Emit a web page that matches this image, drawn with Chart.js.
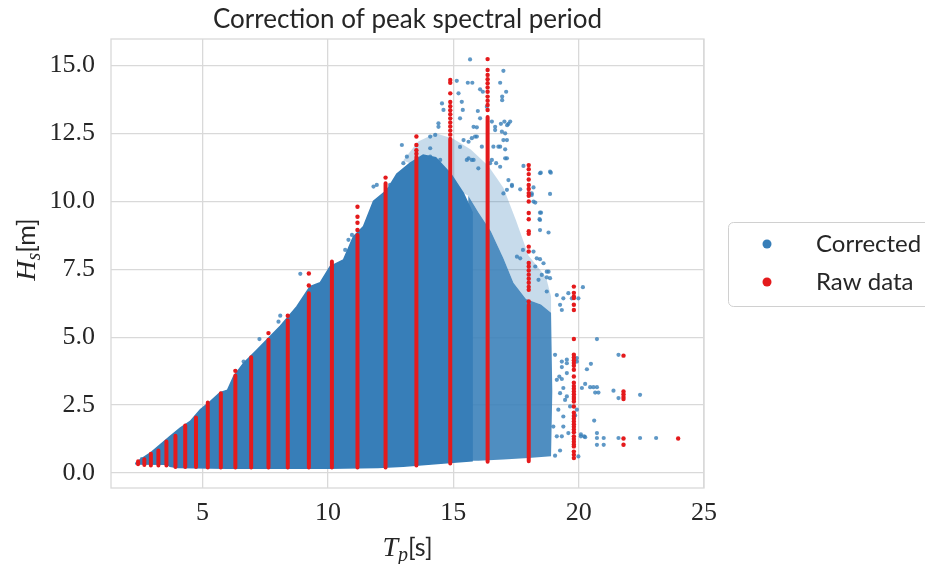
<!DOCTYPE html>
<html>
<head>
<meta charset="utf-8">
<title>Correction of peak spectral period</title>
<script src="https://cdn.jsdelivr.net/npm/chart.js@4.4.1/dist/chart.umd.min.js"></script>
<style>
  html, body { margin: 0; padding: 0; background: #fff; }
  #wrap { width: 925px; height: 564px; }
</style>
</head>
<body>
<div id="wrap"><canvas id="chart" width="925" height="564"></canvas></div>
<script>
// ---- data ----
const xTicks = [5, 10, 15, 20, 25];
const yTicks = [0, 2.5, 5, 7.5, 10, 12.5, 15];

// raw Tp bins and the solid Hs extent of each raw column (null = only loose dots)
const rawTp   = [2.43, 2.68, 2.94, 3.24, 3.56, 3.92, 4.31, 4.74, 5.21, 5.73, 6.31, 6.94, 7.63,
                 8.40, 9.24, 10.16, 11.18, 12.30, 13.53, 14.88, 16.37, 18.01, 19.81, 21.79, 23.97];
const rawLow  = [0.32, 0.30, 0.28, 0.28, 0.28, 0.22, 0.22, 0.22, 0.20, 0.20, 0.20, 0.20, 0.20,
                 0.20, 0.20, 0.20, 0.20, 0.20, 0.28, 0.35, 0.42, 0.43, null, null, null];
const rawHigh = [0.43, 0.51, 0.71, 0.83, 1.16, 1.37, 1.75, 2.04, 2.60, 2.94, 3.59, 4.26, 4.90,
                 5.61, 6.62, 7.78, 8.76, 10.66, 11.64, 12.30, 13.10, 6.19, null, null, null];

// loose raw points above / apart from the solid columns [Tp, Hs]
const rawDots = [
  [6.31, 3.76], [7.63, 5.15], [8.40, 5.79], [9.24, 6.90], [9.24, 7.34],
  [11.18, 8.94], [11.18, 9.21], [11.18, 9.43], [11.18, 9.80], [12.30, 10.87],
  [13.53, 11.75], [13.53, 11.88], [13.53, 12.07], [13.53, 12.38],
  [14.88, 12.45], [14.88, 12.60], [14.88, 12.75], [14.88, 12.90], [14.88, 13.05], [14.88, 13.20],
  [14.88, 13.35], [14.88, 13.50], [14.88, 13.65], [14.88, 13.97], [14.88, 14.36], [14.88, 14.46],
  [16.37, 13.36], [16.37, 13.54], [16.37, 13.70], [16.37, 13.85], [16.37, 14.03], [16.37, 14.19],
  [16.37, 14.34], [16.37, 14.49], [16.37, 14.65], [16.37, 14.83], [16.37, 15.23],
  [18.01, 6.31], [18.01, 6.74], [18.01, 6.85], [18.01, 7.00], [18.01, 7.15], [18.01, 7.30],
  [18.01, 7.45], [18.01, 7.60], [18.01, 7.73], [18.01, 8.15], [18.01, 8.33], [18.01, 8.80],
  [18.01, 8.90], [18.01, 9.34], [18.01, 9.57], [18.01, 9.99], [18.01, 10.20], [18.01, 10.30],
  [18.01, 10.45], [18.01, 10.60], [18.01, 10.80], [18.01, 11.00], [18.01, 11.18], [18.01, 11.33],
  [19.81, 6.86], [19.81, 6.63], [19.81, 6.50], [19.81, 6.44], [19.81, 6.19], [19.81, 6.00],
  [19.81, 4.93], [19.81, 4.35], [19.81, 4.25], [19.81, 4.15], [19.81, 4.05], [19.81, 3.95],
  [19.81, 3.80], [19.81, 3.55], [19.81, 3.32], [19.81, 3.20], [19.81, 3.10], [19.81, 3.00],
  [19.81, 2.90], [19.81, 2.80], [19.81, 2.72], [19.81, 2.63], [19.81, 2.45], [19.81, 2.22],
  [19.81, 2.10], [19.81, 2.00], [19.81, 1.90], [19.81, 1.80], [19.81, 1.70], [19.81, 1.60],
  [19.81, 1.50], [19.81, 1.35], [19.81, 1.25], [19.81, 1.15], [19.81, 1.05], [19.81, 0.98],
  [19.81, 0.79], [19.81, 0.67], [19.81, 0.55],
  [21.79, 4.32], [21.79, 3.00], [21.79, 2.90], [21.79, 2.80], [21.79, 2.72], [21.79, 1.27],
  [21.79, 1.04], [23.97, 1.27]
];

// outline of the solid corrected cloud [Tp, Hs]
const coreEnvelope = [
  [2.32, 0.35], [2.52, 0.49], [2.91, 0.73], [3.31, 1.04], [3.71, 1.35], [4.11, 1.65],
  [4.51, 1.90], [4.91, 2.33], [5.31, 2.63], [5.70, 2.96], [6.00, 3.05], [6.24, 3.55],
  [6.64, 4.04], [7.17, 4.53], [7.57, 4.90], [8.10, 5.40], [8.76, 6.12], [9.29, 6.86],
  [9.69, 7.00], [10.09, 7.60], [10.62, 7.84], [11.02, 8.70], [11.42, 9.07], [11.82, 10.00],
  [12.35, 10.40], [12.75, 11.00], [13.28, 11.40], [13.80, 11.70], [14.30, 11.60], [14.90, 11.00],
  [15.40, 10.30], [15.75, 9.60], [15.75, 0.45], [15.00, 0.40], [14.00, 0.32], [13.00, 0.25],
  [12.00, 0.20], [10.00, 0.18], [8.00, 0.18], [6.00, 0.18], [4.00, 0.20], [3.70, 0.25],
  [3.60, 0.32], [2.32, 0.33]
];

// speckled part of the cloud at long periods
const spreadEnvelope = [
  [15.60, 10.20], [16.00, 9.60], [16.50, 8.90], [17.00, 7.90], [17.40, 7.00], [17.90, 6.40],
  [18.50, 6.20], [18.90, 5.90], [18.95, 3.00], [18.90, 0.62], [18.00, 0.55], [17.00, 0.50],
  [16.00, 0.45], [15.60, 0.45]
];

// thin halo above the dense cloud
const haloEnvelope = [
  [13.00, 11.50], [13.60, 12.20], [14.30, 12.50], [15.00, 12.30], [15.70, 11.90], [16.40, 11.30],
  [17.00, 10.50], [17.50, 9.30], [18.00, 8.00], [18.70, 7.20], [18.90, 6.50], [18.90, 5.90],
  [18.50, 6.20], [17.90, 6.40], [17.40, 7.00], [17.00, 7.90], [16.50, 8.90], [16.00, 9.60],
  [15.60, 10.20], [15.40, 10.30], [14.90, 11.00], [14.30, 11.60], [13.80, 11.70], [13.28, 11.40]
];

// scattered corrected points outside the dense cloud [Tp, Hs]
const correctedPts = [
  [2.58, 0.51], [6.64, 4.10], [7.27, 4.93], [8.10, 5.79], [8.03, 5.57], [8.90, 7.33],
  [10.42, 7.66], [10.56, 7.72], [10.69, 8.21], [10.82, 8.58], [10.96, 8.76], [11.82, 10.54],
  [11.95, 10.60], [12.35, 10.42], [12.48, 10.60], [13.01, 11.40], [13.15, 11.64], [14.08, 11.64],
  [14.48, 11.52],
  [15.67, 15.22], [15.14, 14.43], [15.58, 14.36], [15.76, 14.36], [17.00, 14.80], [16.87, 14.36],
  [17.11, 14.03], [16.95, 13.85], [16.95, 13.72], [16.07, 14.12], [16.18, 14.03], [15.21, 13.97],
  [14.55, 13.60], [15.34, 13.66], [15.38, 13.36], [14.61, 13.36], [15.98, 13.32], [16.34, 13.48],
  [17.04, 12.93], [17.27, 12.93], [17.15, 12.80], [16.67, 12.74], [16.67, 12.62], [14.41, 12.87],
  [14.41, 12.74], [14.08, 12.38], [14.28, 12.44], [15.81, 12.74], [15.87, 12.38], [15.94, 12.38],
  [15.61, 12.19], [15.27, 12.00], [17.00, 12.25], [17.14, 12.25], [16.87, 12.01], [12.95, 12.07],
  [14.08, 11.95], [17.07, 11.58], [16.54, 11.52], [16.47, 11.40], [15.61, 11.58], [15.81, 11.52],
  [17.80, 11.30], [18.46, 11.03], [18.86, 11.09], [18.86, 10.27], [18.46, 9.58], [17.34, 10.56],
  [17.00, 10.29], [18.13, 10.29], [17.67, 10.44], [18.20, 9.99], [18.46, 9.31],
  [15.27, 13.05], [16.07, 13.05], [16.54, 12.93], [16.90, 12.85], [17.20, 12.85], [15.94, 12.72],
  [16.94, 12.56], [17.07, 12.50], [15.41, 12.25], [15.74, 12.32], [16.60, 12.01], [16.80, 12.01],
  [17.07, 11.91], [16.14, 12.01], [17.14, 11.58], [15.54, 11.52], [15.74, 11.52], [16.71, 11.40],
  [16.87, 11.27], [16.00, 11.21], [18.49, 11.05], [18.89, 11.05], [18.20, 10.51], [17.20, 10.78],
  [17.34, 10.60], [17.14, 10.42], [18.46, 8.94], [18.80, 8.85], [18.27, 9.95], [17.54, 7.96],
  [17.67, 7.90], [17.78, 8.21], [18.33, 7.90], [18.46, 7.87], [18.73, 7.41], [18.86, 7.17],
  [19.13, 6.55], [19.39, 6.43],
  [18.13, 10.23], [18.50, 9.58], [18.44, 9.34], [18.20, 8.15], [18.27, 7.60], [18.60, 7.72],
  [18.80, 7.41], [18.73, 7.20], [18.53, 7.29], [18.40, 7.11], [18.73, 6.68], [19.26, 6.19],
  [19.33, 6.00], [19.59, 6.62], [19.73, 6.43], [19.99, 6.43], [20.17, 6.84], [20.73, 4.93],
  [19.06, 4.35], [19.33, 4.10], [19.53, 4.04], [19.93, 4.23], [19.93, 4.10], [19.33, 3.46],
  [19.53, 3.68], [20.33, 3.82], [20.49, 4.02], [19.39, 3.13], [19.26, 2.94], [19.53, 2.82],
  [19.46, 2.69], [20.13, 3.13], [20.26, 3.28], [20.46, 3.16], [20.59, 3.16], [20.73, 3.16],
  [20.66, 2.96], [20.79, 2.96], [21.39, 3.03], [21.59, 2.76], [22.45, 2.88], [21.59, 4.35],
  [20.62, 1.93], [19.39, 1.71], [18.99, 1.71], [19.13, 1.35], [19.33, 1.35], [20.09, 1.35],
  [20.26, 1.32], [20.73, 1.47], [20.73, 1.29], [20.73, 1.04], [21.00, 1.29], [21.00, 1.04],
  [21.59, 1.29], [22.45, 1.29], [23.09, 1.29], [19.26, 0.83], [19.06, 0.64], [19.99, 0.61],
  [19.59, 1.47], [19.86, 2.12], [19.66, 2.45], [19.93, 2.33], [19.39, 2.08], [19.19, 2.33],
  [19.13, 3.43], [19.23, 3.55], [20.22, 1.35], [20.09, 1.42], [19.53, 4.17], [19.33, 3.90]
];

// ---- styles ----
const BLUE = '#377eb8';
const RED = '#e41a1c';
const INK = '#262626';
const GRID = '#d9d9d9';
const SANS = 'Lato, "DejaVu Sans", sans-serif';
const SERIF = '"Liberation Serif", "DejaVu Serif", serif';

const xy = p => ({ x: p[0], y: p[1] });

// each raw column: bottom point, top point, gap
const rawColumns = [];
rawTp.forEach((t, i) => {
  if (rawLow[i] == null) return;
  rawColumns.push({ x: t, y: rawLow[i] }, { x: t, y: rawHigh[i] }, { x: t, y: null });
});

function polygon(points, alpha, edge) {
  const c = `rgba(55,126,184,${alpha})`;
  return {
    type: 'line', data: points.map(xy), fill: 'shape',
    backgroundColor: c, borderColor: c, borderWidth: edge,
    pointRadius: 0, tension: 0
  };
}

// draws a run of text pieces with different fonts, centred on (x, y)
function drawRuns(ctx, runs, x, y) {
  let total = 0;
  runs.forEach(r => { ctx.font = r.font; r.w = ctx.measureText(r.text).width; total += r.w; });
  let cx = x - total / 2;
  ctx.textAlign = 'left';
  ctx.textBaseline = 'alphabetic';
  runs.forEach(r => { ctx.font = r.font; ctx.fillText(r.text, cx, y + (r.dy || 0)); cx += r.w; });
}

const decor = {
  id: 'decor',
  afterDatasetsDraw(chart) {
    const { ctx, chartArea: a } = chart;
    ctx.save();
    ctx.strokeStyle = GRID;
    ctx.lineWidth = 1.3;
    ctx.strokeRect(a.left, a.top, a.right - a.left, a.bottom - a.top);
    ctx.restore();
  },
  afterDraw(chart) {
    const { ctx, chartArea: a } = chart;
    ctx.save();
    ctx.fillStyle = INK;

    // title
    ctx.font = `26px ${SANS}`;
    ctx.textAlign = 'center';
    ctx.textBaseline = 'alphabetic';
    ctx.fillText('Correction of peak spectral period', (a.left + a.right) / 2, 28);

    // x axis label
    drawRuns(ctx, [
      { text: 'T', font: `italic 28px ${SERIF}` },
      { text: 'p', font: `italic 20px ${SERIF}`, dy: 5 },
      { text: '[s]', font: `25px ${SANS}` }
    ], (a.left + a.right) / 2, 556);

    // y axis label
    ctx.save();
    ctx.translate(35, (a.top + a.bottom) / 2 - 14);
    ctx.rotate(-Math.PI / 2);
    drawRuns(ctx, [
      { text: 'H', font: `italic 28px ${SERIF}` },
      { text: 's', font: `italic 20px ${SERIF}`, dy: 5 },
      { text: '[m]', font: `25px ${SANS}` }
    ], 0, 0);
    ctx.restore();

    // legend
    const lx = 728, ly = 222, lw = 210, lh = 84;
    ctx.beginPath();
    ctx.roundRect(lx + 0.5, ly + 0.5, lw, lh, 5);
    ctx.fillStyle = 'rgba(255,255,255,0.8)';
    ctx.fill();
    ctx.strokeStyle = '#d0d0d0';
    ctx.lineWidth = 1;
    ctx.stroke();
    const items = [['Corrected', BLUE, 244], ['Raw data', RED, 282]];
    items.forEach(([label, color, y]) => {
      ctx.beginPath();
      ctx.arc(767, y, 4.5, 0, Math.PI * 2);
      ctx.fillStyle = color;
      ctx.fill();
      ctx.fillStyle = INK;
      ctx.font = `24px ${SANS}`;
      ctx.textAlign = 'left';
      ctx.textBaseline = 'middle';
      ctx.fillText(label, 816, y);
    });
    ctx.restore();
  }
};

new Chart(document.getElementById('chart'), {
  type: 'scatter',
  data: {
    datasets: [
      {
        label: 'Raw data', type: 'line', data: rawColumns, spanGaps: false,
        borderColor: RED, borderWidth: 4, borderCapStyle: 'round',
        pointRadius: 0, fill: false
      },
      {
        label: 'Raw data', data: rawDots.map(xy),
        backgroundColor: RED, borderWidth: 0, pointRadius: 2.2
      },
      {
        label: 'Corrected', data: correctedPts.map(xy),
        backgroundColor: 'rgba(55,126,184,0.8)', borderWidth: 0, pointRadius: 2.1
      },
      polygon(coreEnvelope, 1, 1.5),
      polygon(spreadEnvelope, 0.88, 0),
      polygon(haloEnvelope, 0.28, 0)
    ]
  },
  options: {
    responsive: false,
    animation: false,
    events: [],
    layout: { padding: { top: 39, right: 221, left: 0, bottom: 0 } },
    plugins: { legend: { display: false }, tooltip: { enabled: false }, title: { display: false } },
    scales: {
      x: {
        type: 'linear', min: 1.35, max: 25,
        afterBuildTicks: s => { s.ticks = xTicks.map(v => ({ value: v })); },
        afterFit: s => { s.height = 76; },
        grid: { color: GRID, lineWidth: 1.3, drawTicks: false },
        border: { display: false },
        ticks: {
          color: INK, padding: 10, maxRotation: 0,
          font: { family: SERIF, size: 26 },
          callback: v => String(v)
        }
      },
      y: {
        type: 'linear', min: -0.55, max: 15.97,
        afterBuildTicks: s => { s.ticks = yTicks.map(v => ({ value: v })); },
        afterFit: s => { s.width = 111; },
        grid: { color: GRID, lineWidth: 1.3, drawTicks: false },
        border: { display: false },
        ticks: {
          color: INK, padding: 16,
          font: { family: SERIF, size: 26 },
          callback: v => v.toFixed(1)
        }
      }
    }
  },
  plugins: [decor]
});
</script>
</body>
</html>
